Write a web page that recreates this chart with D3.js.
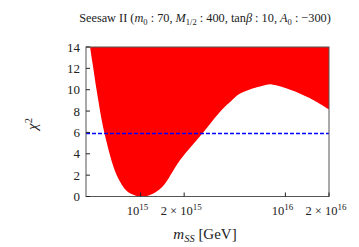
<!DOCTYPE html>
<html>
<head>
<meta charset="utf-8">
<script src="https://cdn.jsdelivr.net/npm/d3@7"></script>
<style>
  body { margin: 0; background: #fff; }
  svg text { fill: #222; }
</style>
</head>
<body>
<svg id="chart" font-family="'Liberation Serif', 'Times New Roman', serif"></svg>
<script>
// lower edge of the allowed (red) region
let mss  = [4.48e14, 4.67e14, 4.98e14, 5.65e14, 6.87e14, 8.06e14, 9.0e14, 1.02e15, 1.16e15, 1.41e15,
            1.87e15, 2.65e15, 3.63e15, 4.26e15, 4.87e15, 6.68e15, 8.04e15, 1.08e16, 1.48e16, 2.0e16];
let chi2 = [14, 12.4, 9.9, 5.85, 1.95, 0.5, 0.15, 0.0, 0.15, 0.9,
            3.4, 5.85, 8.1, 9.0, 9.65, 10.3, 10.5, 10.0, 9.2, 8.15];
let cut = 5.9;
let yTicks = [0, 2, 4, 6, 8, 10, 12, 14];
let xTicks = [1e15, 2e15, 1e16, 2e16];
let xTickLabels = [["10", "15"], ["2 × 10", "15"], ["10", "16"], ["2 × 10", "16"]];

let size = {width: 359, height: 247};
let m = {left: 86, right: 30, top: 47, bottom: 50.5};

let x = d3.scaleLog()
    .domain([4.2e14, 2e16])
    .range([m.left, size.width - m.right]);

let y = d3.scaleLinear()
    .domain([0, 14])
    .range([size.height - m.bottom, m.top]);

let svg = d3.select('#chart')
    .attr("width", size.width)
    .attr("height", size.height);

svg.append("clipPath").attr("id", "clip")
  .append("rect")
  .attr("x", x.range()[0]).attr("y", y.range()[1])
  .attr("width", x.range()[1] - x.range()[0])
  .attr("height", y.range()[0] - y.range()[1]);

let pts = mss.map((d, i) => ({m: d, c: chi2[i]}));

// red region: everything above the curve up to the top of the frame
svg.append("path")
  .datum(pts)
  .attr("clip-path", "url(#clip)")
  .attr("fill", "#ff0000")
  .attr("d", d3.area()
    .curve(d3.curveCatmullRom)
    .x(d => x(d.m))
    .y0(y(14))
    .y1(d => y(d.c)));

// chi^2 cut
svg.append("line")
  .attr("x1", x.range()[0]).attr("x2", x.range()[1])
  .attr("y1", y(cut)).attr("y2", y(cut))
  .attr("stroke", "#0000ff")
  .attr("stroke-width", 1.3)
  .attr("stroke-dasharray", "4,2");

// frame
svg.append("rect")
  .attr("x", x.range()[0]).attr("y", y.range()[1])
  .attr("width", x.range()[1] - x.range()[0])
  .attr("height", y.range()[0] - y.range()[1])
  .attr("fill", "none")
  .attr("stroke", "#555")
  .attr("stroke-width", 1);

// y ticks (inward)
let yAxis = svg.append("g");
yAxis.selectAll("line").data(yTicks).enter().append("line")
  .attr("x1", x.range()[0]).attr("x2", x.range()[0] + 4)
  .attr("y1", d => y(d)).attr("y2", d => y(d))
  .attr("stroke", "#222");
yAxis.selectAll("text").data(yTicks).enter().append("text")
  .attr("x", x.range()[0] - 6)
  .attr("y", d => y(d) + 4.5)
  .attr("text-anchor", "end")
  .attr("font-size", "13px")
  .text(d => d);

// x ticks (inward)
let xAxis = svg.append("g");
xAxis.selectAll("line").data(xTicks).enter().append("line")
  .attr("x1", d => x(d)).attr("x2", d => x(d))
  .attr("y1", y.range()[0]).attr("y2", y.range()[0] - 4)
  .attr("stroke", "#222");
let xl = xAxis.selectAll("text").data(xTicks).enter().append("text")
  .attr("x", d => x(d) - 3)
  .attr("y", 215)
  .attr("text-anchor", "middle")
  .attr("font-size", "12.5px");
xl.append("tspan").text((d, i) => xTickLabels[i][0]);
xl.append("tspan").attr("dy", -5).attr("font-size", "9px").text((d, i) => xTickLabels[i][1]);

// axis titles
let xt = svg.append("text")
  .attr("x", 205).attr("y", 239)
  .attr("text-anchor", "middle")
  .attr("font-size", "15px");
xt.append("tspan").attr("font-style", "italic").text("m");
xt.append("tspan").attr("dy", 3).attr("font-size", "10.5px").attr("font-style", "italic").text("SS");
xt.append("tspan").attr("dy", -3).text(" [GeV]");

let yt = svg.append("text")
  .attr("transform", "translate(37,124) rotate(-90)")
  .attr("text-anchor", "middle")
  .attr("font-size", "15px");
yt.append("tspan").attr("font-style", "italic").text("χ");
yt.append("tspan").attr("dy", -5).attr("font-size", "10.5px").text("2");

// title
let tt = svg.append("text")
  .attr("x", 205).attr("y", 22)
  .attr("text-anchor", "middle")
  .attr("font-size", "12.3px");
tt.append("tspan").text("Seesaw II (");
tt.append("tspan").attr("font-style", "italic").text("m");
tt.append("tspan").attr("dy", 2.5).attr("font-size", "8.5px").text("0");
tt.append("tspan").attr("dy", -2.5).text(" : 70, ");
tt.append("tspan").attr("font-style", "italic").text("M");
tt.append("tspan").attr("dy", 2.5).attr("font-size", "8.5px").text("1/2");
tt.append("tspan").attr("dy", -2.5).text(" : 400, tan");
tt.append("tspan").attr("font-style", "italic").text("β");
tt.append("tspan").text(" : 10, ");
tt.append("tspan").attr("font-style", "italic").text("A");
tt.append("tspan").attr("dy", 2.5).attr("font-size", "8.5px").text("0");
tt.append("tspan").attr("dy", -2.5).text(" : −300)");
</script>
</body>
</html>
